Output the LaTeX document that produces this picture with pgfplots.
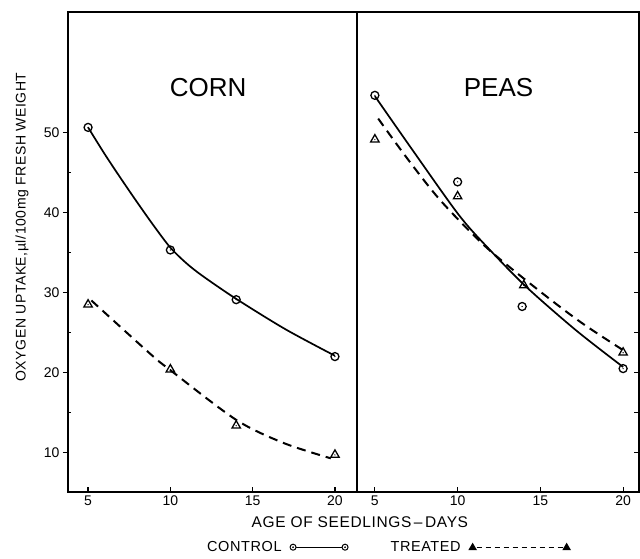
\documentclass[border=0pt]{standalone}
\usepackage{fontspec}
\setmainfont{Liberation Sans}
\newfontfamily\spaced[LetterSpace=4]{Liberation Sans}
\usepackage{pgfplots}
\pgfplotsset{compat=1.18}

% circle with a dot, triangle with a dot
\pgfdeclareplotmark{odot}{%
  \pgfpathcircle{\pgfpointorigin}{\pgfplotmarksize}\pgfusepathqstroke
  \pgfpathcircle{\pgfpointorigin}{0.7pt}\pgfusepathqfill}
\pgfdeclareplotmark{tdot}{%
  \pgfpathmoveto{\pgfpoint{0pt}{1.15\pgfplotmarksize}}%
  \pgfpathlineto{\pgfpoint{-\pgfplotmarksize}{-0.6\pgfplotmarksize}}%
  \pgfpathlineto{\pgfpoint{\pgfplotmarksize}{-0.6\pgfplotmarksize}}%
  \pgfpathclose\pgfusepathqstroke
  \pgfpathcircle{\pgfpoint{0pt}{-0.05\pgfplotmarksize}}{0.7pt}\pgfusepathqfill}

\pgfplotsset{
  panel/.style={
    scale only axis, height=480pt, ymin=5.1, ymax=65,
    axis line style={line width=1.8pt},
    every tick/.style={black, line width=1.2pt},
    xtick={5,10,15,20}, xtick pos=bottom, xtick align=inside,
    major tick length=5pt,
    /pgf/number format/assume math mode=true,
    tick label style={font=\fontsize{14}{14}\selectfont},
    clip=false,
  },
  ctrl/.style={black, line width=1.7pt, forget plot},
  trt/.style={black, line width=2pt, dash pattern=on 9pt off 6pt, forget plot},
  cmark/.style={only marks, forget plot, mark=odot, mark size=4pt, mark options={line width=1.3pt, black}},
  tmark/.style={only marks, forget plot, mark=tdot, mark size=4.2pt, mark options={line width=1.3pt, black, solid}},
  ctrlleg/.style={legend image code/.code={%
    \draw[black, line width=1.2pt] (0pt,0pt) -- (52pt,0pt);
    \draw[black, line width=1pt, fill=white] (0pt,0pt) circle (3pt) (52pt,0pt) circle (3pt);
    \fill (0pt,0pt) circle (0.6pt) (52pt,0pt) circle (0.6pt);}},
  trtleg/.style={legend image code/.code={%
    \draw[black, line width=1.1pt, dash pattern=on 5pt off 4pt] (4pt,0pt) -- (91pt,0pt);
    \draw[black, line width=1pt, fill=black]
      (0pt,3.5pt) -- (-3.5pt,-2.5pt) -- (3.5pt,-2.5pt) -- cycle
      (94pt,3.5pt) -- (90.5pt,-2.5pt) -- (97.5pt,-2.5pt) -- cycle;}},
}

\begin{document}
\begin{tikzpicture}
\useasboundingbox (-68pt,-67pt) rectangle (572pt,492pt);

% ---- CORN ----
\begin{axis}[panel, name=L, at={(0pt,0pt)}, anchor=south west, width=289pt,
    xmin=3.78, xmax=21.34,
    ytick={10,20,30,40,50}, ytick pos=left, ytick align=outside,
    extra y ticks={15,25,35,45}, extra y tick labels={},
    extra y tick style={ytick align=inside, major tick length=3pt},
    ylabel={OXYGEN UPTAKE,µl/100mg FRESH WEIGHT},
    ylabel style={at={(axis description cs:-0.159,0.552)}, anchor=center,
      rotate=0, font=\spaced\fontsize{14}{14}\selectfont},
    xlabel={AGE OF SEEDLINGS\,–\,DAYS},
    xlabel style={at={(axis description cs:1.01,-0.0625)}, anchor=center,
      font=\spaced\fontsize{15.5}{15.5}\selectfont},
    legend columns=2, legend plot pos=right,
    legend style={draw=none, fill=none, at={(axis description cs:1.107,-0.115)},
      anchor=center, font=\spaced\fontsize{14.5}{14.5}\selectfont,
      /tikz/every odd column/.append style={column sep=6pt},
      /tikz/every even column/.append style={column sep=40pt}},
  ]
  % control
  \addplot[ctrl, smooth] coordinates {(5,50.6)(6,47.3)(7,44.2)(8,41.2)(9,38.3)(10,35.6)(11,33.6)(12,32.0)(14,29.2)(17,25.4)(20,22.1)};
  \addplot[cmark] coordinates {(5,50.6)(10,35.3)(14,29.1)(20,22.0)};
  % treated
  \addplot[trt, smooth] coordinates {(5.2,29)(8.8,22.3)(10,20.3)(14,14.1)(16.9,11.2)(19.75,9.3)};
  \addplot[tmark] coordinates {(5,28.5)(10,20.4)(14,13.4)(20,9.75)};
  \node[font=\fontsize{26}{26}\selectfont] at (axis cs:12.3,55.6) {CORN};

  \addlegendimage{ctrlleg}
  \addlegendentry{CONTROL}
  \addlegendimage{trtleg}
  \addlegendentry{TREATED}
\end{axis}

% ---- PEAS ----
\begin{axis}[panel, name=R, at={(289pt,0pt)}, anchor=south west, width=282pt,
    xmin=3.92, xmax=20.96,
    ytick={10,15,...,50}, yticklabels={}, ytick pos=right, ytick align=inside,
  ]
  % control
  \addplot[ctrl, smooth] coordinates {(5,54.5)(7.3,47.7)(10.1,39.6)(12,35.2)(14.2,30.6)(17.2,25.2)(20,20.7)};
  \addplot[cmark] coordinates {(5,54.6)(10,43.8)(13.9,28.25)(20,20.5)};
  % treated
  \addplot[trt, smooth] coordinates {(5.2,51.7)(7,46.6)(9,41.4)(11.75,35.6)(15,30.1)(17.5,26.2)(20,22.8)};
  \addplot[tmark] coordinates {(5,49.1)(10,42)(14,30.9)(20,22.5)};
  \node[font=\fontsize{26}{26}\selectfont] at (axis cs:12.47,55.6) {PEAS};
\end{axis}
\end{tikzpicture}
\end{document}
